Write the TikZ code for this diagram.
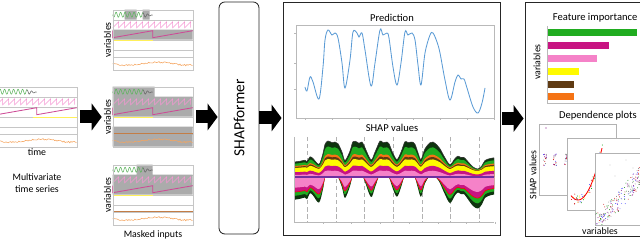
\documentclass[tikz,border=0pt]{standalone}
\usepackage{fontspec}
\setmainfont{Carlito}
\usetikzlibrary{arrows.meta,positioning}

\definecolor{predblue}{RGB}{91,155,213}
\definecolor{shdark}{RGB}{14,52,14}
\definecolor{shgreen}{RGB}{32,172,32}
\definecolor{shorange}{RGB}{245,115,20}
\definecolor{shbrown}{RGB}{95,58,18}
\definecolor{shyellow}{RGB}{255,250,0}
\definecolor{shmag}{RGB}{200,20,130}
\definecolor{shpink}{RGB}{245,130,200}
\definecolor{shpurple}{RGB}{112,48,160}
\definecolor{tsgreen}{RGB}{95,180,95}
\definecolor{tspink}{RGB}{245,150,210}
\definecolor{tsmag}{RGB}{205,75,150}
\definecolor{tsyellow}{RGB}{255,240,90}
\definecolor{tsbrown}{RGB}{195,125,70}
\definecolor{tsorange}{RGB}{245,165,95}

% prediction curve, pixel coordinates
\newcommand{\predpts}{(305,87) (307,91) (310,77) (313,82) (319,99) (323,67) (325,40) (328,30)
  (332,35) (335,33) (338,38) (342,63) (345,88) (350,60) (353,32) (357,33) (359,37) (362,33)
  (365,50) (371,86) (375,63) (380,30) (383,35) (387,33) (389,38) (393,67) (397,85) (401,63)
  (405,32) (408,35) (412,33) (415,40) (418,65) (421,85) (425,53) (430,35) (433,33) (437,42)
  (440,53) (445,80) (450,100) (455,82) (458,75) (461,79) (464,79) (467,88) (473,107)
  (478,113) (482,103) (485,88)}
\newcommand{\shappts}{(295,92) (300,90) \predpts (490,82) (494,80)}

% one time series panel (80 x 60 px): node, yellow from, yellow to, masks
\newcommand{\tspanel}[4]{%
  \begin{scope}[shift={(#1.north west)}]
    \foreach \r in {10,20,30,40,47} \draw[gridline] (0,\r) -- (80,\r);
    #4
    \draw[tsgreen] plot[domain=0:30,samples=80] (\x,{5+2.5*sin(80*\x)});
    \draw[black!60] plot[domain=30:40,samples=30] (\x,{5.5+0.25*(40-\x)*sin(80*\x)});
    \draw[tspink] (0,18) \foreach \i in {1,...,13}{ -- ({6*\i},12) -- ({6*\i},18)};
    \draw[tsmag, semithick] (0,21) -- (0,28) -- (40,21) -- (40,28) -- (80,21);
    \draw[tsyellow, thick] (#2,31) -- (#3,31);
    \pgfmathsetseed{11}
    \draw[tsorange] plot[domain=0:80,samples=70] (\x,{54+1.5*sin(6*\x)+0.8*rand});
    \draw[gridline] (0,0) rectangle (80,60);
  \end{scope}}

% stacked SHAP band: style, shift, scale of the prediction curve
\newcommand{\shaplayer}[3]{%
  \begin{scope}[shift={(0,#2)}, yscale=#3]
    \edef\lpath{\noexpand\path[#1] (z0) -- plot[smooth,tension=.55] coordinates {\shappts} -- (z1) -- cycle;}\lpath
  \end{scope}}
\newcommand{\shapup}[3]{% style, offset, gain
  \pgfmathsetmacro{\lyscale}{#3/83}\pgfmathsetmacro{\lyshift}{177-#2-113*\lyscale}%
  \shaplayer{#1}{\lyshift}{\lyscale}}
\newcommand{\shapdown}[3]{% style, gain, threshold
  \pgfmathsetmacro{\lyscale}{#2/83}\pgfmathsetmacro{\lyshift}{177-#2*#3-30*\lyscale}%
  \shaplayer{#1}{\lyshift}{\lyscale}}

\begin{document}
\begin{tikzpicture}[x=0.025cm, y=-0.025cm,
  every node/.style={font=\fontsize{7}{8.5}\selectfont, inner sep=1pt},
  ttl/.style={font=\fontsize{7.5}{9}\selectfont},
  panel/.style={minimum width=2cm, minimum height=1.5cm, inner sep=0pt},
  frame/.style={draw=black!85, semithick, inner sep=0pt},
  bigarr/.style={line width=0.325cm, -{Triangle[length=0.25cm,width=0.675cm,line width=0pt]}},
  gridline/.style={gray!45, very thin},
  axis/.style={gray!55, thin},
  maskc/.style={fill=black!33},
  card/.style={fill=white, draw=gray!60, thin}
]
\useasboundingbox (0,0) rectangle (640,248);

% inputs
\node[panel] (ts) at (37,117) {};
\node[panel] (m1) at (153,40) {};
\node[panel] (m2) at (153,117) {};
\node[panel] (m3) at (153,195) {};
\tspanel{ts}{36}{80}{}
\tspanel{m1}{0}{40}{\fill[maskc] (12,0) rectangle (24,10) (30,0) rectangle (37,10) (0,20) rectangle (80,30);}
\tspanel{m2}{0}{40}{\fill[maskc] (0,0) rectangle (42,10) (0,10) rectangle (80,30) (0,40) rectangle (80,60);
  \draw[tsbrown] (0,47) -- (80,47);}
\tspanel{m3}{0}{40}{\fill[maskc] (24,0) rectangle (40,10) (0,10) rectangle (80,30);
  \draw[tsbrown] (0,47) -- (80,47);}
\node[below=0pt of ts] (time) {time};
\node[below=0.35cm of time, align=center] (mts) {Multivariate\\time series};
\foreach \p in {m1,m2,m3} \node[rotate=90, anchor=south] (v\p) at (\p.west) {variables};
\node[below=0.1cm of m3] (mi) {Masked inputs};

% model and output boxes
\node[frame, rounded corners=0.15cm, minimum width=1cm, minimum height=5.8cm] (sf) at (239,118) {};
\node[rotate=90, font=\fontsize{11}{13}\selectfont] (sft) at (sf) {SHAPformer};
\node[frame, minimum width=5.425cm, minimum height=5.825cm] (mb) at (391.5,118.5) {};
\node[frame, minimum width=3cm, minimum height=5.85cm] (rb) at (585,119) {};

\draw[bigarr, shorten <=0.075cm, shorten >=0.275cm] (ts.east) -- (ts.east -| m2.west);
\draw[bigarr, shorten <=0.075cm, shorten >=0.025cm] (m2.east) -- (m2.east -| sf.west);
\draw[bigarr, shorten >=0.025cm] (sf.east) -- (sf.east -| mb.west);
\draw[bigarr, shorten <=0.05cm, shorten >=0.025cm] (mb.east) -- (mb.east -| rb.west);

% prediction
\node[ttl] (pt) at (392,18) {Prediction};
\draw[axis] (296,25) rectangle (494,118);
\foreach \k in {0,...,7} \draw[axis] ({305+27*\k},118) -- ++(0,2);
\foreach \v in {33,63,89} \draw[axis] (296,\v) -- ++(-2,0);
\edef\predline{\noexpand\draw[predblue, semithick] plot[smooth,tension=.55] coordinates {\predpts};}\predline

% SHAP values
\node[ttl] (st) at (392,128) {SHAP values};
\coordinate (z0) at (294,177);
\coordinate (z1) at (494,177);
\foreach \k in {0,...,6} \draw[gray!60, densely dashed, very thin] ({307+28.7*\k},137) -- ({307+28.7*\k},222);
\begin{scope}
  \clip (294,120) rectangle (494,177);
  \shapup{fill=shdark, draw=black!80, thin}{8}{28}
  \shapup{fill=shgreen}{7.5}{23}
  \shapup{fill=shorange}{7}{16}
  \shapup{fill=shbrown}{6.5}{14}
  \shapup{fill=shyellow}{6}{12}
  \shapup{fill=shmag}{2.5}{9}
  \shapup{fill=shpink}{0.5}{6}
\end{scope}
\begin{scope}
  \clip (294,177) rectangle (494,222);
  \shapdown{fill=shdark}{35}{0.1}
  \shapdown{fill=shgreen}{30}{0.12}
  \shapdown{fill=shmag, draw=red, thin}{24}{0.12}
  \shapdown{fill=shpink}{17}{0.12}
\end{scope}
\draw[shpurple, line width=1.2pt] (z0) -- (z1);
\draw[axis] (294,137) -- (294,222) -- (494,222);
\foreach \k in {0,...,6} \draw[axis] ({323+28.7*\k},222) -- ++(0,2);

% feature importance
\node[ttl, anchor=east] (fi) at (639,18) {Feature importance};
\draw[axis] (547,26) -- (547,103) -- (642,103);
\foreach \col/\y/\l in {shgreen/29/637, shmag/42/609, shpink/55/597, shyellow/68/579, shbrown/81/574, shorange/93/574}
  \fill[\col] (548,\y) rectangle (\l,{\y+7});
\node[rotate=90] (fv) at (537,62) {variables};

% dependence plots
\node[ttl] (dp) at (598,116) {Dependence plots};
\filldraw[card] (539,124) rectangle (616,195);
\pgfmathsetseed{5}
\foreach \cx in {545,555,566}
  \foreach \col in {blue!70,violet,red!80!black,gray}
    \foreach \i in {1,...,4} \fill[\col] ({\cx+1.6*rand},{160+6*rand}) circle (0.5);
\fill[violet] (546,128) circle (0.6);
\filldraw[card] (567,138) rectangle (650,210);
\foreach \col in {yellow!90!orange, green!60!black, blue!70, red!80!black}
  \foreach \i in {1,...,10} {\pgfmathsetmacro\px{570+34*rnd}
    \fill[\col] (\px,{200-0.09*(\px-578)^2+5*rand}) circle (0.5);}
\draw[red, semithick] plot[domain=571:602, samples=30] (\x,{200-0.09*(\x-578)^2});
\filldraw[card] (595,153) rectangle (650,225);
\begin{scope}
  \clip (595,153) rectangle (650,225);
  \foreach \col in {red!80!black, blue!70, violet, gray, green!50!black}
    \foreach \i in {1,...,40} {\pgfmathsetmacro\pos{rnd}
      \fill[\col] ({598+46*\pos+3*rand},{221-48*\pos+9*rand}) circle (0.45);}
  \foreach \q in {(610,165),(626,160),(615,176),(633,168)} \fill[gray] \q circle (0.45);
\end{scope}
\node[rotate=90] (sv) at (533,175) {SHAP values};
\node (dv) at (600,231) {variables};
\end{tikzpicture}
\end{document}
